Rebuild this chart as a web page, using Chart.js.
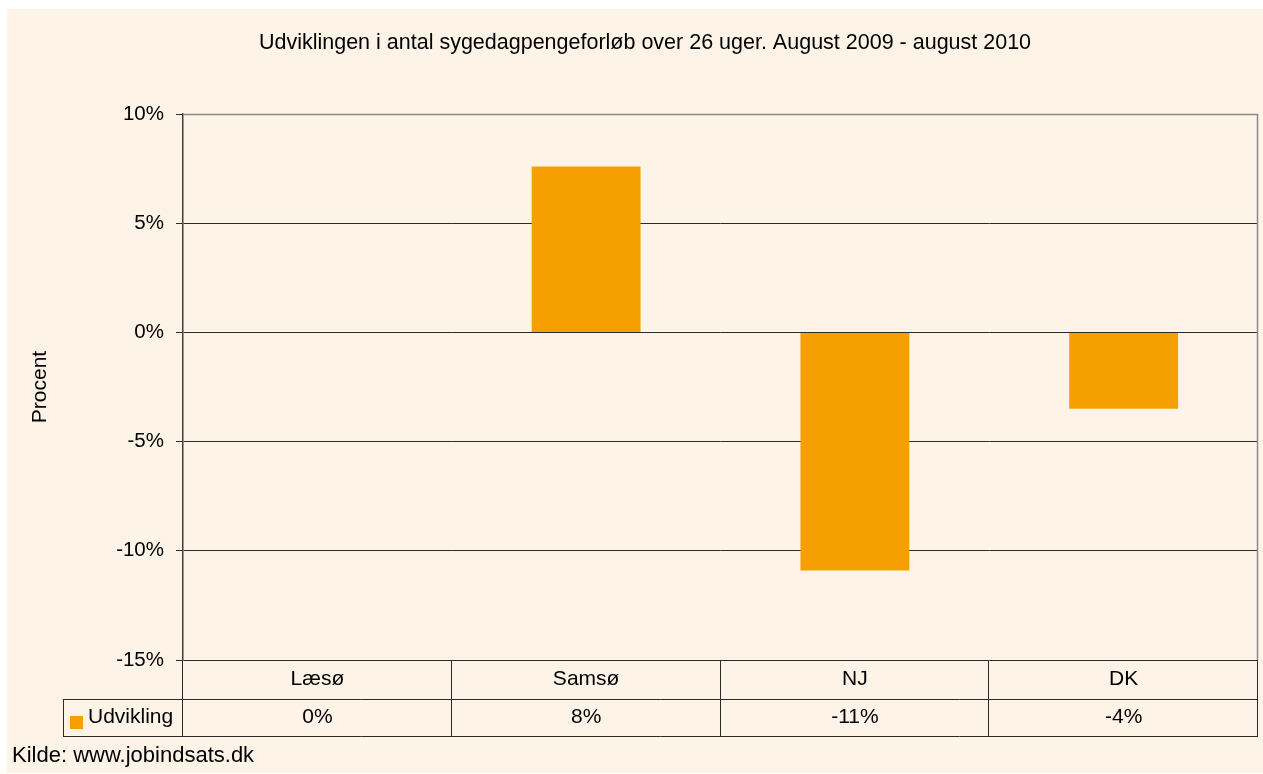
<!DOCTYPE html>
<html>
<head>
<meta charset="utf-8">
<script src="https://cdn.jsdelivr.net/npm/chart.js@4"></script>
<style>
  html, body { margin: 0; padding: 0; background: #fff; }
  #wrap { width: 1263px; height: 774px; }
</style>
</head>
<body>
<div id="wrap"><canvas id="chart" width="1263" height="774"></canvas></div>
<script>
// chart data
const categories = ['Læsø', 'Samsø', 'NJ', 'DK'];
const udvikling = [0, 7.6, -10.9, -3.5];
const yTicks = [-15, -10, -5, 0, 5, 10];
const seriesName = 'Udvikling';
const titleText = 'Udviklingen i antal sygedagpengeforløb over 26 uger. August 2009 - august 2010';
const sourceText = 'Kilde: www.jobindsats.dk';

const FONT = 'Liberation Sans, Arial, sans-serif';
const BAR = '#f59f00';
const LINE = '#2b2b2b';

// Excel-style rounding (half away from zero)
function pct(v) {
    return (Math.sign(v) * Math.round(Math.abs(v))) + '%';
}

// background, title, source text and data table
const decorPlugin = {
    id: 'decor',
    beforeDraw(chart) {
        const ctx = chart.ctx;
        ctx.save();
        ctx.fillStyle = '#fdf3e6';
        ctx.fillRect(7, 9, chart.width - 7, chart.height - 10);
        ctx.restore();
    },
    afterDraw(chart) {
        const ctx = chart.ctx;
        const area = chart.chartArea;
        const x = chart.scales.x;
        const r1 = area.bottom, r2 = r1 + 39, r3 = r2 + 37;
        const legendLeft = 63;

        ctx.save();
        // title
        ctx.fillStyle = '#000';
        ctx.font = '21.5px ' + FONT;
        ctx.textAlign = 'center';
        ctx.textBaseline = 'middle';
        ctx.fillText(titleText, 645, 43);

        // plot border top/right
        ctx.strokeStyle = '#8a8a8a';
        ctx.lineWidth = 1.5;
        ctx.beginPath();
        ctx.moveTo(area.left, area.top + 0.5);
        ctx.lineTo(area.right - 0.5, area.top + 0.5);
        ctx.lineTo(area.right - 0.5, area.bottom);
        ctx.stroke();

        // table lines
        const step = (x.getPixelForValue(1) - x.getPixelForValue(0));
        const edges = categories.map((c, i) => x.getPixelForValue(i) - step / 2);
        edges.push(area.right);
        ctx.strokeStyle = LINE;
        ctx.lineWidth = 1;
        ctx.beginPath();
        ctx.moveTo(legendLeft, r2 + 0.5);
        ctx.lineTo(area.right, r2 + 0.5);
        ctx.moveTo(legendLeft, r3 + 0.5);
        ctx.lineTo(area.right, r3 + 0.5);
        ctx.moveTo(legendLeft + 0.5, r2);
        ctx.lineTo(legendLeft + 0.5, r3);
        edges.forEach(e => {
            const xx = Math.round(e) - 0.5;
            ctx.moveTo(xx, r1);
            ctx.lineTo(xx, r3);
        });
        ctx.stroke();

        // category labels and values
        ctx.fillStyle = '#000';
        ctx.font = '21px ' + FONT;
        ctx.textAlign = 'center';
        categories.forEach((c, i) => {
            const cx = x.getPixelForValue(i);
            ctx.fillText(c, cx, (r1 + r2) / 2);
            ctx.fillText(pct(udvikling[i]), cx, (r2 + r3) / 2);
        });

        // legend key
        ctx.fillStyle = BAR;
        ctx.fillRect(70, 716, 13, 13);
        ctx.fillStyle = '#000';
        ctx.textAlign = 'left';
        ctx.fillText(seriesName, 88, (r2 + r3) / 2);

        // source
        ctx.font = '22px ' + FONT;
        ctx.fillText(sourceText, 12, 756);
        ctx.restore();
    }
};

new Chart(document.getElementById('chart'), {
    type: 'bar',
    data: {
        labels: categories,
        datasets: [{
            label: seriesName,
            data: udvikling,
            backgroundColor: BAR,
            borderWidth: 0,
            categoryPercentage: 1,
            barPercentage: 0.405
        }]
    },
    options: {
        responsive: false,
        animation: false,
        layout: { padding: { top: 114, right: 5, left: 0, bottom: 0 } },
        plugins: {
            legend: { display: false },
            title: { display: false },
            tooltip: { enabled: false }
        },
        scales: {
            x: {
                grid: { display: false },
                border: { display: false },
                ticks: { display: false },
                afterFit: s => { s.height = 774 - 660; }
            },
            y: {
                min: -15,
                max: 10,
                afterBuildTicks: s => { s.ticks = yTicks.map(v => ({ value: v })); },
                afterFit: s => { s.width = 183; },
                ticks: {
                    color: '#000',
                    font: { family: FONT, size: 20.5 },
                    padding: 12,
                    callback: v => v + '%'
                },
                grid: {
                    color: LINE,
                    lineWidth: 1,
                    tickLength: 7,
                    tickColor: LINE
                },
                border: { display: true, color: '#404040', width: 1.5 },
                title: {
                    display: true,
                    text: 'Procent',
                    color: '#000',
                    font: { family: FONT, size: 21 },
                    padding: { top: 28, bottom: 0 }
                }
            }
        }
    },
    plugins: [decorPlugin]
});
</script>
</body>
</html>
